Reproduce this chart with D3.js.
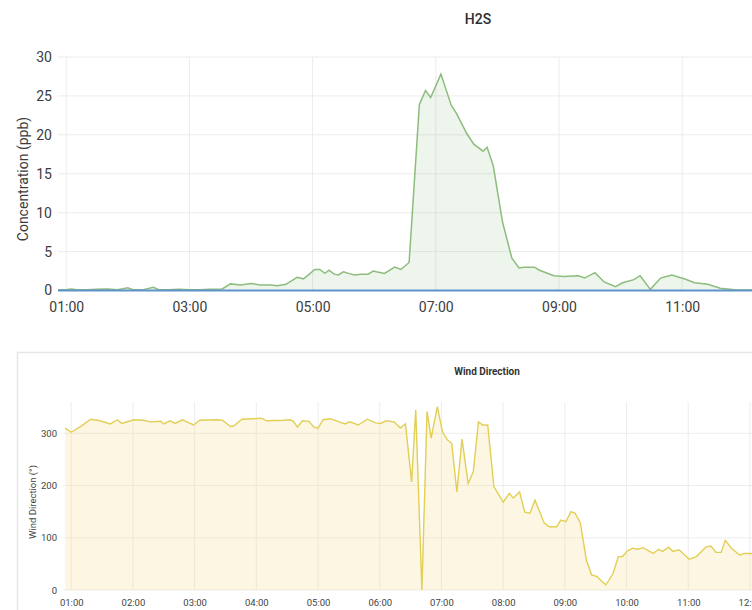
<!DOCTYPE html>
<html><head><meta charset="utf-8">
<script src="https://cdn.jsdelivr.net/npm/d3@7"></script>
<style>
html,body{margin:0;padding:0;background:#fff;}
svg{display:block;font-family:Roboto,"Noto Sans",sans-serif;}
</style></head>
<body><svg id="c" width="752" height="610"></svg>
<script>
// ---------- H2S data ----------
const h2sTimes = ["00:52","01:00","01:05","01:10","01:20","01:30","01:40","01:50","02:00","02:05","02:15","02:25","02:30","02:40","02:50","03:00","03:10","03:20","03:32","03:40","03:50","04:00","04:09","04:19","04:26","04:34","04:39","04:45","04:51","04:56","05:02","05:07","05:12","05:16","05:21","05:25","05:30","05:35","05:41","05:47","05:54","05:59","06:02","06:10","06:20","06:26","06:34","06:44","06:50","06:55","07:05","07:15","07:20","07:30","07:37","07:46","07:50","07:56","08:05","08:14","08:21","08:26","08:36","08:41","08:55","09:05","09:19","09:25","09:35","09:44","09:55","10:02","10:13","10:19","10:29","10:39","10:50","10:57","11:02","11:12","11:25","11:37","11:51","12:08"];
const h2sValues = [0.1,0.1,0.2,0.1,0.1,0.15,0.2,0.1,0.35,0.1,0.1,0.4,0.1,0.1,0.15,0.1,0.1,0.15,0.2,0.85,0.7,0.9,0.7,0.7,0.6,0.8,1.2,1.7,1.5,2.0,2.7,2.7,2.2,2.6,2.1,2.0,2.4,2.2,2.0,2.1,2.1,2.5,2.4,2.2,3.0,2.7,3.6,23.9,25.7,24.8,27.8,23.8,22.8,20.2,18.8,17.9,18.4,16.0,8.8,4.2,2.9,3.0,3.0,2.6,1.9,1.8,1.9,1.6,2.3,1.1,0.5,1.0,1.4,1.9,0.15,1.6,2.0,1.7,1.5,1.0,0.8,0.3,0.1,0.05];
const baselineTimes = ["00:52","12:08"];
const baselineValues = [0,0];
const h2sYTicks = [0,5,10,15,20,25,30];
const h2sXTicks = ["01:00","03:00","05:00","07:00","09:00","11:00"];

// ---------- Wind direction data ----------
const windTimes = ["00:54","01:00","01:09","01:19","01:28","01:38","01:45","01:49","02:01","02:10","02:17","02:27","02:30","02:36","02:41","02:48","02:59","03:05","03:22","03:27","03:35","03:38","03:46","03:57","04:05","04:10","04:26","04:33","04:36","04:40","04:45","04:51","04:56","05:00","05:05","05:12","05:18","05:26","05:31","05:39","05:48","05:56","06:01","06:06","06:14","06:20","06:25","06:31","06:35","06:41","06:46","06:50","06:56","07:01","07:06","07:10","07:15","07:20","07:26","07:31","07:36","07:40","07:45","07:51","07:55","08:00","08:06","08:10","08:16","08:21","08:26","08:31","08:40","08:45","08:52","08:56","09:01","09:06","09:10","09:15","09:21","09:26","09:31","09:37","09:40","09:47","09:52","09:56","10:01","10:06","10:11","10:16","10:26","10:31","10:35","10:41","10:45","10:51","11:01","11:08","11:17","11:22","11:27","11:32","11:36","11:42","11:50","11:55","12:02"];
const windValues = [310,302,313,327,324,318,326,319,326,325,322,323,318,324,319,326,316,325,326,325,313,314,327,328,329,324,325,326,323,312,324,323,312,310,326,328,324,318,322,316,327,320,319,324,322,310,318,207,345,0,342,291,351,303,287,281,188,289,204,227,322,316,316,198,185,168,185,176,188,149,147,172,128,121,121,134,131,150,147,129,57,29,26,15,10,32,64,64,75,80,78,81,70,78,74,82,74,77,59,64,82,84,72,72,95,80,67,70,70];
const windYTicks = [0,100,200,300];
const windXTicks = ["01:00","02:00","03:00","04:00","05:00","06:00","07:00","08:00","09:00","10:00","11:00","12:00"];

const parse = d3.timeParse("%H:%M");
const fmt = d3.timeFormat("%H:%M");
const svg = d3.select("#c");

// ===== Top chart: H2S =====
{
  const x = d3.scaleTime().domain([parse("00:52"), parse("12:08")]).range([58, 752]);
  const y = d3.scaleLinear().domain([0, 30]).range([290.5, 57]);
  const g = svg.append("g");
  g.append("g").selectAll("line").data(h2sYTicks).join("line")
    .attr("x1", 58).attr("x2", 752).attr("y1", d => y(d)).attr("y2", d => y(d))
    .attr("stroke", "#ececec").attr("stroke-width", 1);
  g.append("g").selectAll("line").data(h2sXTicks).join("line")
    .attr("x1", d => x(parse(d))).attr("x2", d => x(parse(d))).attr("y1", 57).attr("y2", 290.5)
    .attr("stroke", "#ececec").attr("stroke-width", 1);
  const data = h2sTimes.map((t, i) => ({t: parse(t), v: h2sValues[i]}));
  g.append("path").datum(data)
    .attr("d", d3.area().x(d => x(d.t)).y0(y(0)).y1(d => y(d.v)))
    .attr("fill", "#7eb26d").attr("fill-opacity", 0.13);
  g.append("path").datum(data)
    .attr("d", d3.line().x(d => x(d.t)).y(d => y(d.v)))
    .attr("fill", "none").attr("stroke", "#8cbd7c").attr("stroke-width", 1.5);
  const base = baselineTimes.map((t, i) => ({t: parse(t), v: baselineValues[i]}));
  g.append("path").datum(base)
    .attr("d", d3.line().x(d => x(d.t)).y(d => y(d.v)))
    .attr("fill", "none").attr("stroke", "#5f93c9").attr("stroke-width", 2);
  const ya = g.append("g").attr("transform", "translate(52,0)")
    .call(d3.axisLeft(y).tickValues(h2sYTicks).tickSize(0).tickPadding(0));
  ya.select(".domain").remove();
  ya.selectAll("text").attr("font-size", 14).attr("fill", "#3c3c3c").attr("font-family", "Roboto");
  const xa = g.append("g").attr("transform", "translate(0,302)")
    .call(d3.axisBottom(x).tickValues(h2sXTicks.map(parse)).tickFormat(fmt).tickSize(0).tickPadding(0));
  xa.select(".domain").remove();
  xa.selectAll("text").attr("font-size", 14).attr("fill", "#3c3c3c").attr("font-family", "Roboto");
  g.append("text").attr("transform", "translate(28,179) rotate(-90)")
    .attr("text-anchor", "middle").attr("font-size", 14).attr("fill", "#3c3c3c")
    .text("Concentration (ppb)");
  g.append("text").attr("x", 478).attr("y", 24).attr("text-anchor", "middle")
    .attr("font-size", 14).attr("font-weight", 500).attr("fill", "#2e2e2e").text("H2S");
}

// ===== Bottom chart: Wind Direction =====
{
  svg.append("rect").attr("x", 17.5).attr("y", 352.5).attr("width", 760).attr("height", 300)
    .attr("fill", "#fff").attr("stroke", "#e6e6e6").attr("stroke-width", 1.5);
  const x = d3.scaleTime().domain([parse("00:52"), parse("12:02")]).range([63, 752]);
  const y = d3.scaleLinear().domain([0, 360]).range([590, 402]);
  const g = svg.append("g");
  g.append("g").selectAll("line").data(windYTicks).join("line")
    .attr("x1", 63).attr("x2", 752).attr("y1", d => y(d)).attr("y2", d => y(d))
    .attr("stroke", "#ededed").attr("stroke-width", 1);
  g.append("g").selectAll("line").data(windXTicks).join("line")
    .attr("x1", d => x(parse(d))).attr("x2", d => x(parse(d))).attr("y1", 402).attr("y2", 590)
    .attr("stroke", "#ededed").attr("stroke-width", 1);
  const data = windTimes.map((t, i) => ({t: parse(t), v: windValues[i]}));
  g.append("path").datum(data)
    .attr("d", d3.area().x(d => x(d.t)).y0(y(0)).y1(d => y(d.v)))
    .attr("fill", "#f3d77a").attr("fill-opacity", 0.22);
  g.append("path").datum(data)
    .attr("d", d3.line().x(d => x(d.t)).y(d => y(d.v)))
    .attr("fill", "none").attr("stroke", "#e2cf55").attr("stroke-width", 1.4);
  const ya = g.append("g").attr("transform", "translate(57,0)")
    .call(d3.axisLeft(y).tickValues(windYTicks).tickSize(0).tickPadding(0));
  ya.select(".domain").remove();
  ya.selectAll("text").attr("font-size", 9.5).attr("fill", "#444").attr("font-family", "Roboto");
  const xa = g.append("g").attr("transform", "translate(0,599)")
    .call(d3.axisBottom(x).tickValues(windXTicks.map(parse)).tickFormat(fmt).tickSize(0).tickPadding(0));
  xa.select(".domain").remove();
  xa.selectAll("text").attr("font-size", 9.5).attr("fill", "#444").attr("font-family", "Roboto");
  g.append("text").attr("transform", "translate(36,502) rotate(-90)")
    .attr("text-anchor", "middle").attr("font-size", 9.5).attr("fill", "#444")
    .text("Wind Direction (°)");
  g.append("text").attr("x", 487).attr("y", 375).attr("text-anchor", "middle")
    .attr("font-size", 10).attr("font-weight", 700).attr("fill", "#333").text("Wind Direction");
}
</script></body></html>
